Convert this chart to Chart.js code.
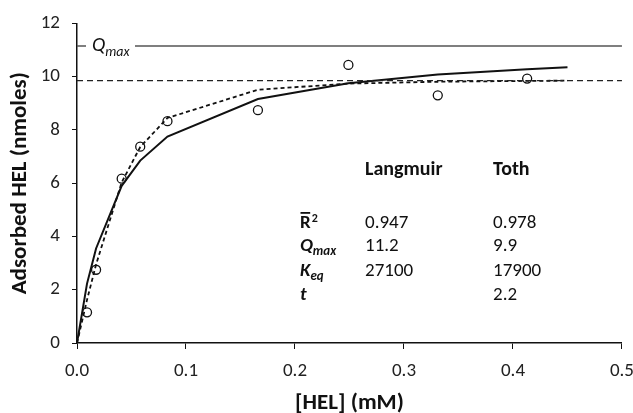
<!DOCTYPE html>
<html>
<head>
<meta charset="utf-8">
<script src="https://cdn.jsdelivr.net/npm/chart.js@4"></script>
<style>
  html, body { margin: 0; padding: 0; background: #fff; overflow: hidden; }
  body { width: 633px; height: 413px; }
  #wrap { width: 645px; height: 413px; }
</style>
</head>
<body>
<div id="wrap"><canvas id="chart"></canvas></div>
<script>
// ===== Data =====
const hel = [0.0092, 0.0175, 0.041, 0.058, 0.083, 0.166, 0.249, 0.331, 0.413];
const adsorbed = [1.15, 2.75, 6.17, 7.37, 8.33, 8.74, 10.44, 9.30, 9.93];

const fitHel = [0, 0.0092, 0.0175, 0.041, 0.058, 0.083, 0.166, 0.249, 0.331, 0.413, 0.45];
const langmuirFit = [0, 2.23, 3.55, 5.90, 6.85, 7.75, 9.16, 9.75, 10.08, 10.28, 10.35];
const tothFit = [0, 1.62, 2.95, 6.03, 7.36, 8.45, 9.51, 9.74, 9.81, 9.84, 9.85];

const qmaxLangmuir = 11.15;
const qmaxToth = 9.85;
const lineRange = [0, 0.5];

const xTicks = [0, 0.1, 0.2, 0.3, 0.4, 0.5];
const yTicks = [0, 2, 4, 6, 8, 10, 12];

const tableHeaders = ['Langmuir', 'Toth'];
const langmuirParams = ['0.947', '11.2', '27100', ''];
const tothParams = ['0.978', '9.9', '17900', '2.2'];

const FONT = 'Carlito, Lato, "Liberation Sans", sans-serif';

const toPoints = (xs, ys) => xs.map((x, i) => ({ x: x, y: ys[i] }));

// ===== Text overlay: Qmax label and parameter table =====
const overlayPlugin = {
    id: 'overlay',
    afterDatasetsDraw(chart) {
        const ctx = chart.ctx;
        const ys = chart.scales.y;
        ctx.save();
        ctx.textBaseline = 'middle';
        ctx.textAlign = 'left';

        // Qmax label sitting on the solid line
        const qy = ys.getPixelForValue(qmaxLangmuir);
        ctx.fillStyle = '#fff';
        ctx.fillRect(86, qy - 14, 49, 28);
        ctx.fillStyle = '#111';
        ctx.font = 'italic 20px ' + FONT;
        ctx.fillText('Q', 92, qy);
        const qw = ctx.measureText('Q').width;
        ctx.font = 'italic 14px ' + FONT;
        ctx.fillText('max', 92 + qw, qy + 6);

        // table header
        const colX = [365, 493];
        ctx.font = 'bold 20px ' + FONT;
        tableHeaders.forEach((h, i) => ctx.fillText(h, colX[i], 170));

        const rowY = [223, 246, 271, 295];
        const lx = 300;

        // R-bar squared
        ctx.font = 'bold 19px ' + FONT;
        ctx.fillText('R', lx, rowY[0]);
        const rw = ctx.measureText('R').width;
        ctx.fillRect(lx + 0.5, rowY[0] - 11, rw - 1, 1.8);
        ctx.font = 'bold 12px ' + FONT;
        ctx.fillText('2', lx + rw + 1, rowY[0] - 4);

        // Q max
        ctx.font = 'bold italic 19px ' + FONT;
        ctx.fillText('Q', lx, rowY[1]);
        let w = ctx.measureText('Q').width;
        ctx.font = 'bold italic 13px ' + FONT;
        ctx.fillText('max', lx + w, rowY[1] + 6);

        // K eq
        ctx.font = 'bold italic 19px ' + FONT;
        ctx.fillText('K', lx, rowY[2]);
        w = ctx.measureText('K').width;
        ctx.font = 'bold italic 13px ' + FONT;
        ctx.fillText('eq', lx + w, rowY[2] + 6);

        // t
        ctx.font = 'bold italic 19px ' + FONT;
        ctx.fillText('t', lx, rowY[3]);

        ctx.font = '19px ' + FONT;
        langmuirParams.forEach((v, i) => ctx.fillText(v, colX[0], rowY[i]));
        tothParams.forEach((v, i) => ctx.fillText(v, colX[1], rowY[i]));
        ctx.restore();
    }
};

// ===== Chart =====
const ctx = document.getElementById('chart').getContext('2d');
new Chart(ctx, {
    type: 'scatter',
    data: {
        datasets: [
            {
                data: toPoints(lineRange, [qmaxLangmuir, qmaxLangmuir]),
                showLine: true,
                borderColor: '#555',
                borderWidth: 1.5,
                pointRadius: 0
            },
            {
                data: toPoints(lineRange, [qmaxToth, qmaxToth]),
                showLine: true,
                borderColor: '#222',
                borderWidth: 1.2,
                borderDash: [6, 4],
                pointRadius: 0
            },
            {
                label: 'Langmuir',
                data: toPoints(fitHel, langmuirFit),
                showLine: true,
                borderColor: '#111',
                borderWidth: 2,
                pointRadius: 0
            },
            {
                label: 'Toth',
                data: toPoints(fitHel, tothFit),
                showLine: true,
                borderColor: '#111',
                borderWidth: 1.8,
                borderDash: [4, 3],
                pointRadius: 0
            },
            {
                label: 'Observed',
                data: toPoints(hel, adsorbed),
                showLine: false,
                pointStyle: 'circle',
                pointRadius: 4.5,
                pointBorderWidth: 1.3,
                pointBorderColor: '#111',
                pointBackgroundColor: 'rgba(255,255,255,0)'
            }
        ]
    },
    options: {
        responsive: true,
        maintainAspectRatio: false,
        animation: false,
        layout: { padding: { top: 8, right: 0, left: 0, bottom: 0 } },
        plugins: {
            legend: { display: false },
            tooltip: { enabled: false }
        },
        scales: {
            x: {
                type: 'linear',
                min: 0,
                max: 0.5,
                afterBuildTicks: (s) => { s.ticks = xTicks.map(v => ({ value: v })); },
                afterFit: (s) => { s.height = 70; },
                grid: { drawOnChartArea: false, drawTicks: true, tickLength: 6, color: '#111' },
                border: { color: '#111', width: 1.5 },
                ticks: {
                    color: '#222',
                    font: { family: FONT, size: 19 },
                    padding: 11,
                    callback: (v) => v.toFixed(1)
                },
                title: {
                    display: true,
                    text: '[HEL] (mM)',
                    color: '#111',
                    font: { family: FONT, size: 23, weight: 'bold' },
                    padding: { top: 0, bottom: -4 }
                }
            },
            y: {
                type: 'linear',
                min: 0,
                max: 12,
                afterBuildTicks: (s) => { s.ticks = yTicks.map(v => ({ value: v })); },
                afterFit: (s) => { s.width = 77; },
                grid: { drawOnChartArea: false, drawTicks: true, tickLength: 5, color: '#111' },
                border: { color: '#111', width: 1.5 },
                ticks: {
                    color: '#222',
                    font: { family: FONT, size: 19 },
                    padding: 12
                },
                title: {
                    display: true,
                    text: 'Adsorbed HEL (nmoles)',
                    color: '#111',
                    font: { family: FONT, size: 23, weight: 'bold' },
                    padding: { top: 6, bottom: 0 }
                }
            }
        }
    },
    plugins: [overlayPlugin]
});
</script>
</body>
</html>
